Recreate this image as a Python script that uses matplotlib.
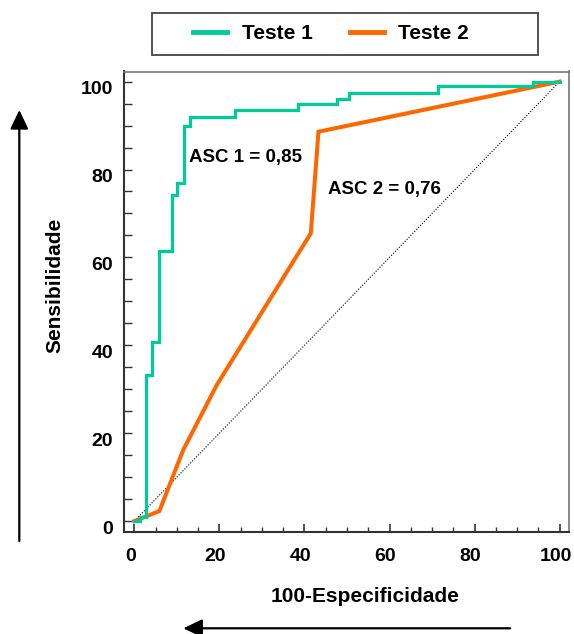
import matplotlib
matplotlib.use("Agg")
import matplotlib.pyplot as plt
import matplotlib.transforms as mtrans
from matplotlib.patches import Rectangle
from matplotlib.ticker import MultipleLocator

# ---- data ----
fpr1 = [0, 1.3, 2.75, 4.2, 5.9, 8.8, 10.1, 11.7, 13.1, 23.7, 38.6, 47.6, 50.5, 71.3, 93.8, 100]
tpr1 = [0, 1.0, 33.2, 40.8, 61.5, 74.2, 76.9, 89.8, 92.0, 93.6, 95.0, 96.0, 97.5, 99.0, 100, 100]
fpr2 = [0, 5.9, 11.5, 19.4, 41.5, 43.3, 100]
tpr2 = [0, 2.3, 16.2, 31.0, 65.5, 88.6, 100]
diag = [0, 100]
series_names = ["Teste 1", "Teste 2"]
auc_labels = ["ASC 1 = 0,85", "ASC 2 = 0,76"]
auc_pos = [(12.9, 81.8), (45.6, 74.4)]
xticks = [0, 20, 40, 60, 80, 100]
yticks = [0, 20, 40, 60, 80, 100]

plt.rcParams['font.family'] = ['Liberation Sans', 'DejaVu Sans']
plt.rcParams['font.weight'] = 'bold'

W, H = 574, 634
fig = plt.figure(figsize=(W / 100, H / 100), dpi=100)
ax = fig.add_axes([124.3 / W, 1 - 531.7 / H, (569 - 124.3) / W, (531.7 - 71.5) / H])

green = '#00CC99'
orange = '#FF6600'

ax.plot(diag, diag, color='black', lw=0.8, ls=(0, (1, 1.5)), zorder=1)
l1, = ax.plot(fpr1, tpr1, color=green, lw=2.3, drawstyle='steps-post',
              solid_joinstyle='miter', label=series_names[0], zorder=3)
l2, = ax.plot(fpr2, tpr2, color=orange, lw=2.9, solid_joinstyle='miter',
              label=series_names[1], zorder=2)

for txt, (x, y) in zip(auc_labels, auc_pos):
    ax.text(x, y, txt, fontsize=13.5, fontweight='bold', ha='left', va='baseline')

ax.set_xlim(-2.35, 102.2)
ax.set_ylim(-2.4, 102.3)
ax.set_xticks(xticks)
ax.set_yticks(yticks)
ax.xaxis.set_minor_locator(MultipleLocator(5))
ax.yaxis.set_minor_locator(MultipleLocator(5))
ax.tick_params(axis='x', which='major', direction='in', length=6, width=1.2,
               pad=12, labelsize=14, color='#333333')
ax.tick_params(axis='x', which='minor', direction='in', length=3.5, width=1.0,
               color='#333333')
ax.tick_params(axis='y', which='both', direction='in', length=6, width=1.0,
               pad=8, labelsize=14, color='#333333')
for lab in ax.get_xticklabels():
    lab.set_fontweight('bold')
    lab.set_transform(lab.get_transform() +
                      mtrans.ScaledTranslation(-0.04, 0, fig.dpi_scale_trans))
for lab in ax.get_yticklabels():
    lab.set_fontweight('bold')
    lab.set_transform(lab.get_transform() +
                      mtrans.ScaledTranslation(0, -0.06, fig.dpi_scale_trans))

for s in ['left', 'bottom']:
    ax.spines[s].set_color('#333333')
    ax.spines[s].set_linewidth(1.5)
for s in ['top', 'right']:
    ax.spines[s].set_color('#777777')
    ax.spines[s].set_linewidth(1.2)

# axis titles
fig.text(365 / W, 1 - 596 / H, "100-Especificidade", fontsize=15, fontweight='bold',
         ha='center', va='center')
fig.text(55 / W, 1 - 285 / H, "Sensibilidade", fontsize=15, fontweight='bold',
         ha='center', va='center', rotation=90)

# arrows
arrow_kw = dict(arrowstyle='-|>,head_length=1.15,head_width=0.55', lw=1.6,
                color='black', shrinkA=0, shrinkB=0, mutation_scale=10)
ax.annotate('', xy=(19.3 / W, 1 - 110 / H), xytext=(19.3 / W, 1 - 541 / H),
            xycoords='figure fraction', textcoords='figure fraction',
            arrowprops=arrow_kw, annotation_clip=False)
ax.annotate('', xy=(183.3 / W, 1 - 628.3 / H), xytext=(510 / W, 1 - 628.3 / H),
            xycoords='figure fraction', textcoords='figure fraction',
            arrowprops=arrow_kw, annotation_clip=False)

# legend
fig.patches.append(Rectangle((151.7 / W, 1 - 55 / H), (538 - 151.7) / W, (55 - 12.7) / H,
                             transform=fig.transFigure, facecolor='white',
                             edgecolor='#444444', lw=1.3, zorder=0))
leg = fig.legend(handles=[l1, l2], loc='center left',
                 bbox_to_anchor=(193.3 / W, 1 - 33.5 / H), ncol=2, frameon=False,
                 fontsize=15, handlelength=1.63, handletextpad=0.69,
                 columnspacing=1.8, borderpad=0, borderaxespad=0,
                 prop={'weight': 'bold', 'size': 15})
for h in leg.legend_handles:
    h.set_linewidth(3.5)

fig.savefig('out.png', dpi=100)
